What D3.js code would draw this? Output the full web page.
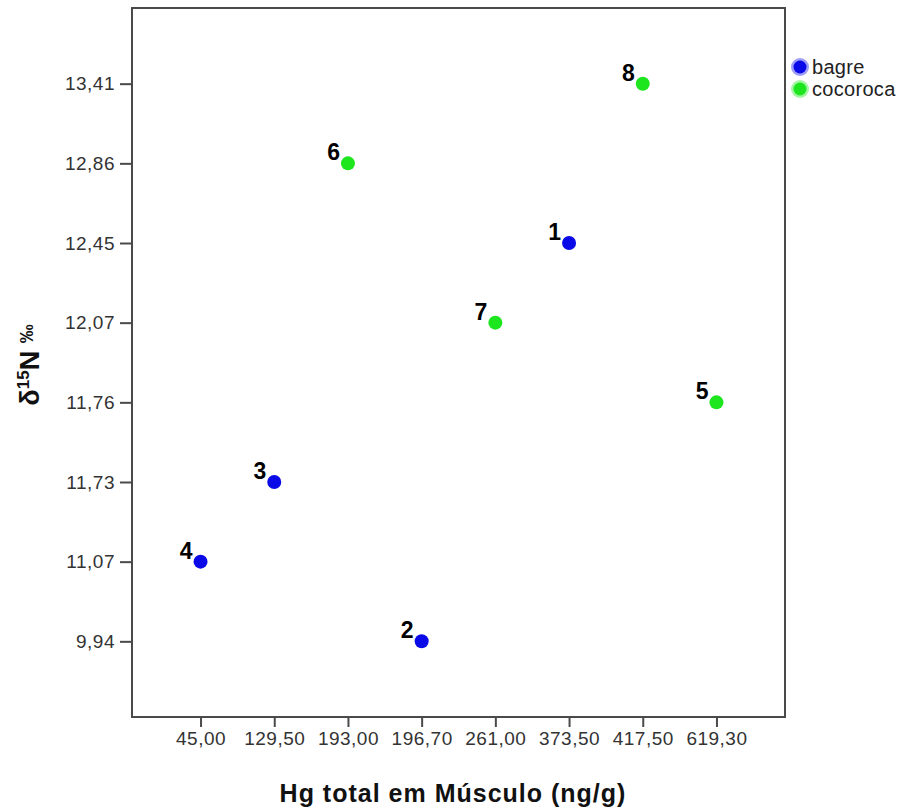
<!DOCTYPE html>
<html><head><meta charset="utf-8">
<script src="https://cdn.jsdelivr.net/npm/d3@7"></script>
<style>body{margin:0;background:#fff}svg{display:block}text{font-family:"Liberation Sans",Arial,sans-serif}</style>
</head><body>
<script>
const xCategories = ["45,00","129,50","193,00","196,70","261,00","373,50","417,50","619,30"];
const yCategories = ["9,94","11,07","11,73","11,76","12,07","12,45","12,86","13,41"];
const pointIds    = ["1","2","3","4","5","6","7","8"];
const pointX      = ["373,50","196,70","129,50","45,00","619,30","193,00","261,00","417,50"];
const pointY      = ["12,45","9,94","11,73","11,07","11,76","12,86","12,07","13,41"];
const pointGroup  = ["bagre","bagre","bagre","bagre","cocoroca","cocoroca","cocoroca","cocoroca"];
const groups      = ["bagre","cocoroca"];
const groupColors = ["#0a0ae8","#1ee61e"];

const W = 904, H = 809;
const frame = {left:132, right:785, top:8, bottom:717};
const svg = d3.select("body").append("svg").attr("width",W).attr("height",H);

const x = d3.scalePoint().domain(xCategories).range([frame.left, frame.right]).padding(0.93);
const y = d3.scalePoint().domain(yCategories).range([frame.bottom, frame.top]).padding(0.95);
const color = d3.scaleOrdinal().domain(groups).range(groupColors);

// frame
svg.append("rect").attr("x",frame.left).attr("y",frame.top)
  .attr("width",frame.right-frame.left).attr("height",frame.bottom-frame.top)
  .attr("fill","none").attr("stroke","#4a4a4a").attr("stroke-width",2);

const xAxis = svg.append("g").attr("transform",`translate(0,${frame.bottom})`)
  .call(d3.axisBottom(x).tickSize(10).tickPadding(5));
const yAxis = svg.append("g").attr("transform",`translate(${frame.left},0)`)
  .call(d3.axisLeft(y).tickSize(12).tickPadding(5));
[xAxis,yAxis].forEach(a=>{
  a.select(".domain").remove();
  a.selectAll(".tick line").attr("stroke","#4a4a4a").attr("stroke-width",2);
  a.selectAll(".tick text").attr("fill","#333").style("font-size","19px").style("letter-spacing","0.5px");
});

// axis titles
svg.append("text").attr("x",453).attr("y",802).attr("text-anchor","middle")
  .style("font-size","25px").style("font-weight","bold").style("letter-spacing","1px").attr("fill","#111")
  .text("Hg total em Músculo (ng/g)");
const yt = svg.append("text").attr("transform","translate(39,365) rotate(-90)")
  .attr("text-anchor","middle").style("font-weight","bold").attr("fill","#111")
  .style("font-size","27px");
yt.append("tspan").text("δ");
yt.append("tspan").attr("dy",-10).style("font-size","17px").text("15");
yt.append("tspan").attr("dy",10).text("N ");
yt.append("tspan").attr("dy",-6).style("font-size","19px").text("‰");

// points
const pts = pointIds.map((id,i)=>({id, x:pointX[i], y:pointY[i], g:pointGroup[i]}));
svg.append("g").selectAll("circle").data(pts).join("circle")
  .attr("cx",d=>x(d.x)).attr("cy",d=>y(d.y)).attr("r",7)
  .attr("fill",d=>color(d.g));
svg.append("g").selectAll("text").data(pts).join("text")
  .attr("x",d=>x(d.x)-8).attr("y",d=>y(d.y)-3).attr("text-anchor","end")
  .style("font-size","23px").style("font-weight","bold").attr("fill","#000")
  .text(d=>d.id);

// legend
const lg = svg.append("g").selectAll("g").data(groups).join("g")
  .attr("transform",(d,i)=>`translate(800,${67+i*22})`);
lg.append("circle").attr("r",9).attr("fill",d=>color(d)).attr("opacity",0.4);
lg.append("circle").attr("r",6.5).attr("fill",d=>color(d));
lg.append("text").attr("x",12).attr("y",7).style("font-size","20px").style("letter-spacing","0.3px").attr("fill","#222").text(d=>d);
</script>
</body></html>
